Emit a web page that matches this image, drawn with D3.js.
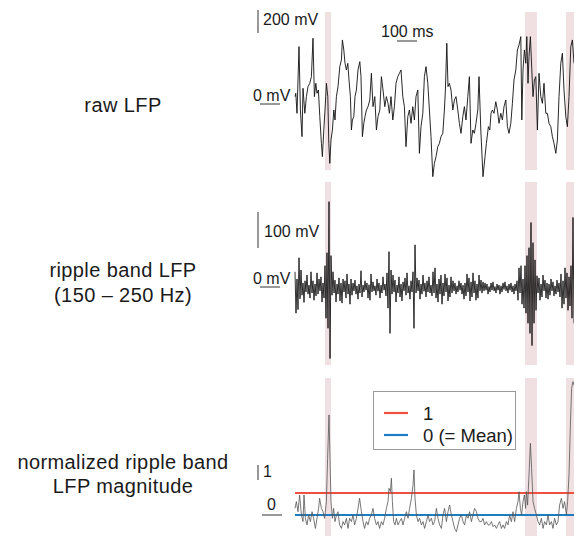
<!DOCTYPE html>
<html>
<head>
<meta charset="utf-8">
<script src="https://cdn.jsdelivr.net/npm/d3@7/dist/d3.min.js"></script>
<style>
  html, body { margin: 0; padding: 0; background: #fff; }
  svg { display: block; }
  text { font-family: "Liberation Sans", Arial, Helvetica, sans-serif; fill: #1a1a1a; }
</style>
</head>
<body>
<svg id="chart" width="574" height="536"></svg>
<script>
// ---------------- DATA ----------------
// raw LFP: time (ms) and voltage (mV)
const rawTime = [0,4,10,20,27,35,40,49,57,65,74,82,90,97,104,110,117,124,132,137,144,150,157,164,169,174,180,187,194,200,207,215,224,232,237,244,250,257,264,270,277,282,287,294,300,307,315,324,330,337,344,350,357,365,374,382,390,399,407,415,424,432,440,449,457,465,472,480,489,497,505,514,522,530,539,547,555,564,572,580,589,597,605,614,622,630,639,647,655,664,672,680,689,697,705,714,722,730,739,747,752,759,765,772,780,789,797,805,814,822,830,839,847,855,864,872,880,889,897,905,914,920,929,940,950,957,967,974,980,987,995,1004,1012,1020,1029,1037,1045,1054,1062,1070,1079,1087,1095,1104,1112,1120,1129,1134,1140,1147,1154,1159,1165,1170,1177,1184,1190,1197,1204,1212,1220,1229,1237,1245,1254,1262,1270,1279,1287,1295,1304,1312,1320,1329,1337,1345,1354,1362,1370,1379,1387,1395];
const rawMv = [64,93,-81,499,-52,-284,137,-81,64,151,180,238,572,64,180,93,122,-110,-342,-458,-226,-52,180,64,-342,-516,-313,-226,-52,-139,64,151,325,383,557,470,354,296,354,209,64,-226,-139,-110,64,122,296,368,238,-284,-168,-110,-52,-23,35,267,-23,64,-226,-110,-52,238,122,-23,64,6,-81,64,-139,-23,180,238,267,296,64,-23,-371,-110,-52,-168,-23,-139,64,122,-429,-197,-81,238,325,180,-52,-284,-632,-516,-458,-371,-342,-284,-255,-52,122,528,151,180,122,-52,35,64,-52,-168,-255,-110,-23,-139,64,238,-342,-226,-255,-168,-52,238,-226,-632,-458,-342,-197,-226,-81,-52,-81,20,-52,-168,-81,-139,-23,35,-197,-255,-168,6,209,296,470,513,586,-139,296,470,354,586,180,412,586,296,64,209,238,-226,267,64,6,180,-81,-81,-168,-197,-284,-342,-429,-313,64,354,441,122,-110,-197,64,499,557,354];

// ripple band LFP (150-250 Hz), one sample every 5 ms, in mV
const rippleStepMs = 5;
const rippleMv = [
  45,-70,25,-60,84,-30,50,-20,
  14,-40,20,-11,36,-17,8,-28,45,-14,20,-34,11,-22,42,-17,25,-8,31,-39,14,
  -28,62,-84,98,-112,240,-196,90,
  -20,45,-14,22,-39,11,-17,28,-36,14,-42,25,-11,20,-28,39,-17,11,-45,25,-20,
  14,-8,22,-17,6,-31,11,-14,48,-25,8,-11,20,-6,14,-28,9,-34,39,-11,17,-8,6,-20,25,-9,14,-28,8,-14,31,-6,11,-22,
  42,-56,101,-126,50,
  -17,36,-11,22,-39,8,-14,31,-25,11,-36,17,-8,28,-20,42,-14,6,-31,20,-11,
  45,-112,120,
  -14,28,-8,22,-31,11,-17,36,-9,14,-25,20,-11,31,-14,8,-22,
  45,-14,56,-28,11,-39,25,-17,36,-45,14,-22,39,-11,28,-36,8,-25,31,-14,20,
  -8,14,-17,6,-11,20,-6,14,-17,8,
  -31,14,-22,39,-11,28,-36,17,-25,42,-14,20,-34,11,-28,36,-8,22,-14,17,
  -8,14,-6,11,-17,4,-11,14,-6,17,-8,4,-14,11,-6,8,-17,6,-11,14,-4,17,-8,6,-14,11,-6,14,-11,6,-17,11,-8,
  20,-34,56,-14,62,-45,25,-56,62,
  -70,90,-98,112,-126,182,-160,126,-98,78,-62,
  34,-14,28,-34,11,-25,36,-8,22,-28,14,-31,11,-20,25,-8,17,-22,6,-17,22,-11,14,-25,
  39,-56,20,-45,56,-28,42,-62,31,-50,62,-84,196,-98
];

// normalized ripple band LFP magnitude
const normTime = [0,7,15,23,32,40,45,52,60,68,77,85,93,102,110,118,123,132,140,148,157,163,170,175,180,187,193,200,207,215,223,232,240,248,257,265,273,282,290,298,307,315,323,332,340,348,357,365,373,382,390,398,407,415,423,432,440,448,457,465,470,477,482,487,493,500,507,515,523,532,540,548,557,565,573,582,590,595,600,607,615,623,632,640,648,657,665,673,682,
  690,698,707,715,723,732,740,748,757,765,773,782,790,798,807,815,823,832,840,848,857,865,873,882,890,898,907,915,923,932,940,948,957,965,973,982,990,998,1007,1015,1023,1032,1040,1048,1057,1065,1073,1082,1090,1098,1107,1115,1120,1127,1133,1140,1147,1153,1157,1163,1170,1177,1183,1190,1198,1207,1215,1223,1232,1240,1248,1257,1265,1273,1282,1290,1298,1307,1315,1323,1332,1340,1348,1357,1363,1370,1377,1383,1390,1395];
const normVal = [0.30,0.61,0.15,0.91,0,-0.30,0.91,-0.15,-0.45,0,-0.30,0.15,-0.15,-0.61,-0.15,0.30,0.76,0.30,0.15,-0.15,0.61,2.58,4.55,2.58,0.61,-0.15,0.30,-0.30,0,0.15,-0.45,-0.61,-0.30,-0.45,-0.15,-0.61,-0.15,-0.30,0,-0.45,-0.15,0.30,0.76,0.15,-0.30,-0.61,-0.30,-0.45,-0.15,0,0.30,-0.15,-0.45,-0.30,-0.61,-0.30,-0.45,-0.15,0.30,0.61,1.21,1.06,1.67,0.61,-0.30,-0.45,-0.15,-0.45,-0.30,-0.15,-0.45,-0.15,0.15,-0.15,0.30,0.76,1.36,2.05,0.76,0,-0.30,-0.15,-0.45,-0.30,-0.61,-0.30,0,-0.30,-0.15,
  -0.45,-0.30,0.30,-0.15,-0.45,-0.61,0,0.30,-0.30,0.15,0.45,0,-0.30,-0.61,-0.76,-0.45,-0.15,0,-0.30,-0.45,0,-0.15,0.15,-0.30,0,0.30,0.15,-0.15,-0.30,-0.30,-0.15,-0.45,-0.30,-0.45,-0.45,-0.30,-0.53,-0.45,-0.61,-0.45,-0.30,-0.61,-0.45,-0.61,-0.30,-0.45,0,-0.30,0.15,-0.30,0.30,0.61,1.06,0.30,0,0.61,0.91,0.30,1.06,0.45,1.82,3.26,2.12,0.61,0.30,0,-0.30,-0.45,-0.15,-0.61,-0.30,-0.45,0,-0.45,-0.30,-0.61,-0.15,-0.45,-0.30,0.45,0.76,0.30,0.61,0,0.61,1.82,4.09,5.76,6.06,5.9];

// detected ripple events (ms)
const eventStart = [150, 1150, 1355];
const eventEnd   = [180, 1210, 1400];

// thresholds of the normalized trace
const thresholdValues = [1, 0];
const thresholdLabels = ["1", "0 (= Mean)"];
const thresholdColors = ["#f0503f", "#1c7dc0"];

// panel labels
const panelLabels = [["raw LFP"], ["ripple band LFP", "(150 \u2013 250 Hz)"], ["normalized ripple band", "LFP magnitude"]];

// ---------------- CHART ----------------
const svg = d3.select("#chart");
svg.append("rect").attr("width", 574).attr("height", 536).attr("fill", "#fff");

const x = d3.scaleLinear().domain([0, 1400]).range([295, 575]);
const yRaw = d3.scaleLinear().domain([0, 200]).range([104, 81]);
const yRip = d3.scaleLinear().domain([0, 100]).range([288, 252]);
const yNorm = d3.scaleLinear().domain([0, 1]).range([515, 493]);

const panels = [[12, 170], [182, 365], [378, 536]];

// event shading
panels.forEach(p => {
  svg.append("g").selectAll("rect").data(eventStart).join("rect")
    .attr("x", (d) => x(d))
    .attr("width", (d, i) => x(eventEnd[i]) - x(d))
    .attr("y", p[0]).attr("height", p[1] - p[0])
    .attr("fill", "#f0e0e2");
});

// raw trace
const rawData = rawTime.map((t, i) => ({t, v: rawMv[i]}));
svg.append("path").datum(rawData)
  .attr("d", d3.line().x(d => x(d.t)).y(d => yRaw(d.v)))
  .attr("fill", "none").attr("stroke", "#111").attr("stroke-width", 0.9)
  .attr("stroke-linejoin", "round");

// ripple trace
const ripData = rippleMv.map((v, i) => ({t: i * rippleStepMs, v}));
svg.append("path").datum(ripData)
  .attr("d", d3.line().x(d => x(d.t)).y(d => yRip(d.v)))
  .attr("fill", "none").attr("stroke", "#000").attr("stroke-width", 0.8);

// threshold lines
svg.append("g").selectAll("line").data(thresholdValues).join("line")
  .attr("x1", x(0)).attr("x2", x(1400))
  .attr("y1", d => yNorm(d)).attr("y2", d => yNorm(d))
  .attr("stroke", (d, i) => thresholdColors[i]).attr("stroke-width", 2.2);

// normalized trace
const normData = normTime.map((t, i) => ({t, v: normVal[i]}));
svg.append("path").datum(normData)
  .attr("d", d3.line().x(d => x(d.t)).y(d => yNorm(d.v)))
  .attr("fill", "none").attr("stroke", "#555").attr("stroke-width", 0.8);

// legend
const lg = svg.append("g");
lg.append("rect").attr("x", 373.5).attr("y", 391.5).attr("width", 142).attr("height", 58)
  .attr("fill", "#fff").attr("stroke", "#9a9a9a").attr("stroke-width", 1);
thresholdLabels.forEach((lab, i) => {
  const yy = 413 + i * 22;
  lg.append("line").attr("x1", 384).attr("x2", 408).attr("y1", yy).attr("y2", yy)
    .attr("stroke", thresholdColors[i]).attr("stroke-width", 2.2);
  lg.append("text").attr("x", 423).attr("y", yy + 6.5).attr("font-size", 18.5).text(lab);
});

// scale bars and labels
const sb = svg.append("g").attr("stroke", "#333").attr("stroke-width", 1);
sb.append("line").attr("x1", 258).attr("x2", 258).attr("y1", 10).attr("y2", 10 + (yRaw(0) - yRaw(200)));
sb.append("line").attr("x1", 397).attr("x2", 397 + (x(100) - x(0))).attr("y1", 41).attr("y2", 41);
sb.append("line").attr("x1", 260).attr("x2", 280).attr("y1", yRaw(0)).attr("y2", yRaw(0));
sb.append("line").attr("x1", 258).attr("x2", 258).attr("y1", 212).attr("y2", 212 + (yRip(0) - yRip(100)));
sb.append("line").attr("x1", 260).attr("x2", 280).attr("y1", yRip(0) - 1).attr("y2", yRip(0) - 1);
sb.append("line").attr("x1", 258).attr("x2", 258).attr("y1", 465).attr("y2", 480);
sb.append("line").attr("x1", 262).attr("x2", 282).attr("y1", yNorm(0)).attr("y2", yNorm(0));

const small = [
  ["200 mV", 263, 25], ["100 ms", 381, 37], ["0 mV", 253, 101],
  ["100 mV", 264, 237], ["0 mV", 253, 284],
  ["1", 263, 477], ["0", 267, 510]
];
svg.append("g").selectAll("text").data(small).join("text")
  .attr("x", d => d[1]).attr("y", d => d[2]).attr("font-size", 16).text(d => d[0]);

// panel labels
const labelY = [[112], [277, 302], [469, 493]];
panelLabels.forEach((lines, i) => {
  lines.forEach((s, j) => {
    svg.append("text").attr("x", 123).attr("y", labelY[i][j])
      .attr("text-anchor", "middle").attr("font-size", 20).attr("letter-spacing", 0.4)
      .text(s);
  });
});
</script>
</body>
</html>
